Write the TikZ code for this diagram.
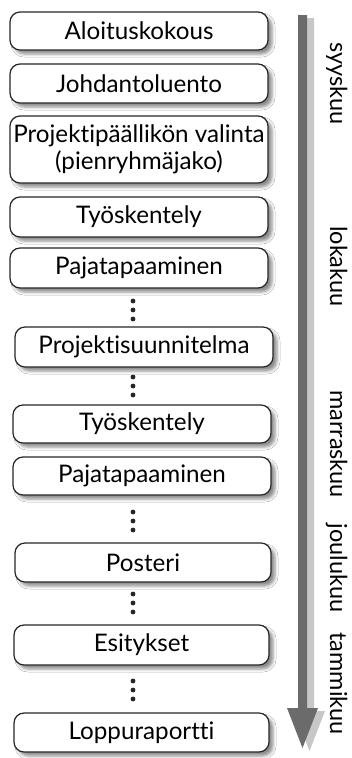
\documentclass[tikz,border=0pt]{standalone}
\usepackage{fontspec}
\setmainfont[Ligatures={NoCommon,NoRare}]{Lato}
\usetikzlibrary{shadows.blur}
\begin{document}
\begin{tikzpicture}[x=1pt,y=-1pt,
  stepbox/.style={draw=black!85, line width=1.2pt, rounded corners=10pt, fill=white,
    minimum width=258pt, minimum height=39pt, inner sep=0pt, align=center,
    font=\fontsize{24.2}{27}\selectfont,
    blur shadow={shadow xshift=4pt, shadow yshift=-4pt, shadow blur radius=3pt, shadow opacity=45}},
  month/.style={rotate=-90, anchor=base, font=\fontsize{23.5}{26}\selectfont, inner sep=0pt},
  dotmark/.style={fill=black!85}
]
\useasboundingbox (0,0) rectangle (352,758);
\fill[white] (0,0) rectangle (352,758);

% timeline arrow
\coordinate (tstart) at (302.5,15);
\coordinate (tend) at (302.5,748);
\fill[black!22, xshift=7pt, yshift=-3pt] (298,15) -- (307,15) -- (307,708) -- (318,708) -- (302.5,748) -- (287,708) -- (298,708) -- cycle;
\fill[black!58] (298,15) -- (307,15) -- (307,708) -- (318,708) -- (tend) -- (287,708) -- (298,708) -- cycle;

% boxes
\node[stepbox, minimum height=38pt] (a1) at (139,31) {Aloituskokous};
\node[stepbox] (a2) at (139,83.5) {Johdantoluento};
\node[stepbox, minimum height=67pt] (a3) at (139,149.5) {Projektipäällikön valinta\\(pienryhmäjako)};
\node[stepbox, minimum height=40pt] (a4) at (139,217) {Työskentely};
\node[stepbox, minimum height=40pt] (a5) at (139,268) {Pajatapaaminen};
\node[stepbox, minimum height=40pt] (a6) at (144,347) {Projektisuunnitelma};
\node[stepbox, minimum height=38pt] (a7) at (142,424) {Työskentely};
\node[stepbox, minimum height=38pt] (a8) at (142,476) {Pajatapaaminen};
\node[stepbox, minimum width=256pt] (a9) at (143,562.5) {Posteri};
\node[stepbox, minimum width=255pt, minimum height=40pt] (a10) at (141.5,645) {Esitykset};
\node[stepbox, minimum width=255pt] (a11) at (141.5,732.5) {Loppuraportti};

% ellipsis dots
\foreach \c in {310,386,521,603,690}{
  \foreach \d in {-9,0,9}{
    \fill[dotmark] (133,\c+\d) circle (2.4pt);
  }
}

% months
\node[month] (m1) at (330,83.5) {syyskuu};
\node[month] (m2) at (330,266.5) {lokakuu};
\node[month] (m3) at (330,444) {marraskuu};
\node[month] (m4) at (330,568) {joulukuu};
\node[month] (m5) at (330,683.5) {tammikuu};
\end{tikzpicture}
\end{document}
